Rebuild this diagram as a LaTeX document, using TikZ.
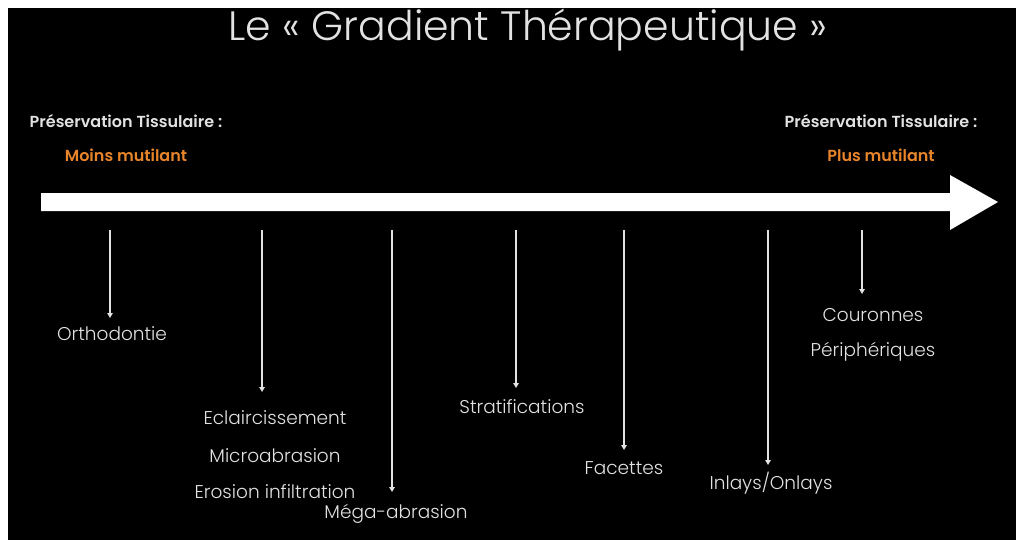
\documentclass[tikz,border=0pt]{standalone}
\usepackage{fontspec}
\setmainfont{Poppins Light}[BoldFont=Poppins SemiBold]
\usetikzlibrary{arrows.meta}
\definecolor{txt}{HTML}{E2E2E2}
\definecolor{orng}{HTML}{E8852A}
\begin{document}
\begin{tikzpicture}[x=1pt,y=-1pt,
  lab/.style={text=txt,font=\fontsize{18.5}{18.5}\selectfont,inner sep=0pt,anchor=center},
  hdr/.style={text=txt,font=\fontsize{16}{16}\selectfont\bfseries,inner sep=0pt,anchor=center},
  sub/.style={text=orng,font=\fontsize{16}{16}\selectfont\bfseries,inner sep=0pt,anchor=center},
  down/.style={draw=txt,line width=1.6pt,-{Triangle[width=5.5pt,length=5pt]}}]
\useasboundingbox (0,0) rectangle (1016,540);
\fill[white] (0,0) rectangle (1016,540);
\fill[black] (8,8) rectangle (1016,540);
% title
\node[text=txt,font=\fontsize{41}{41}\selectfont,inner sep=0pt] (title) at (528,30) {Le « Gradient Thérapeutique »};
% headers
\node[hdr] (hl) at (126,121) {Préservation Tissulaire :};
\node[sub] (sl) at (126,155) {Moins mutilant};
\node[hdr] (hr) at (881,121) {Préservation Tissulaire :};
\node[sub] (sr) at (881,155) {Plus mutilant};
% big arrow
\fill[white] (41,193) -- (950,193) -- (950,175) -- (998,202) -- (950,230) -- (950,211) -- (41,211) -- cycle;
% start/end coordinates
\coordinate (a1) at (110,230); \coordinate (b1) at (110,318);
\coordinate (a2) at (262,230); \coordinate (b2) at (262,392);
\coordinate (a3) at (392,230); \coordinate (b3) at (392,492);
\coordinate (a4) at (516,230); \coordinate (b4) at (516,388);
\coordinate (a5) at (624,230); \coordinate (b5) at (624,450);
\coordinate (a6) at (768,230); \coordinate (b6) at (768,465);
\coordinate (a7) at (862,230); \coordinate (b7) at (862,294);
\draw[down] (a1) -- (b1);
\draw[down] (a2) -- (b2);
\draw[down] (a3) -- (b3);
\draw[down] (a4) -- (b4);
\draw[down] (a5) -- (b5);
\draw[down] (a6) -- (b6);
\draw[down] (a7) -- (b7);
% labels
\node[lab] (l1) at (112,334) {Orthodontie};
\node[lab] (l2a) at (275,418) {Eclaircissement};
\node[lab] (l2b) at (275,456) {Microabrasion};
\node[lab] (l2c) at (275,492) {Erosion infiltration};
\node[lab] (l3) at (396,514) {Méga-abrasion};
\node[lab] (l4) at (522,407) {Stratifications};
\node[lab] (l5) at (624,468) {Facettes};
\node[lab] (l6) at (771,483) {Inlays/Onlays};
\node[lab] (l7a) at (873,315) {Couronnes};
\node[lab] (l7b) at (873,352) {Périphériques};
\end{tikzpicture}
\end{document}
